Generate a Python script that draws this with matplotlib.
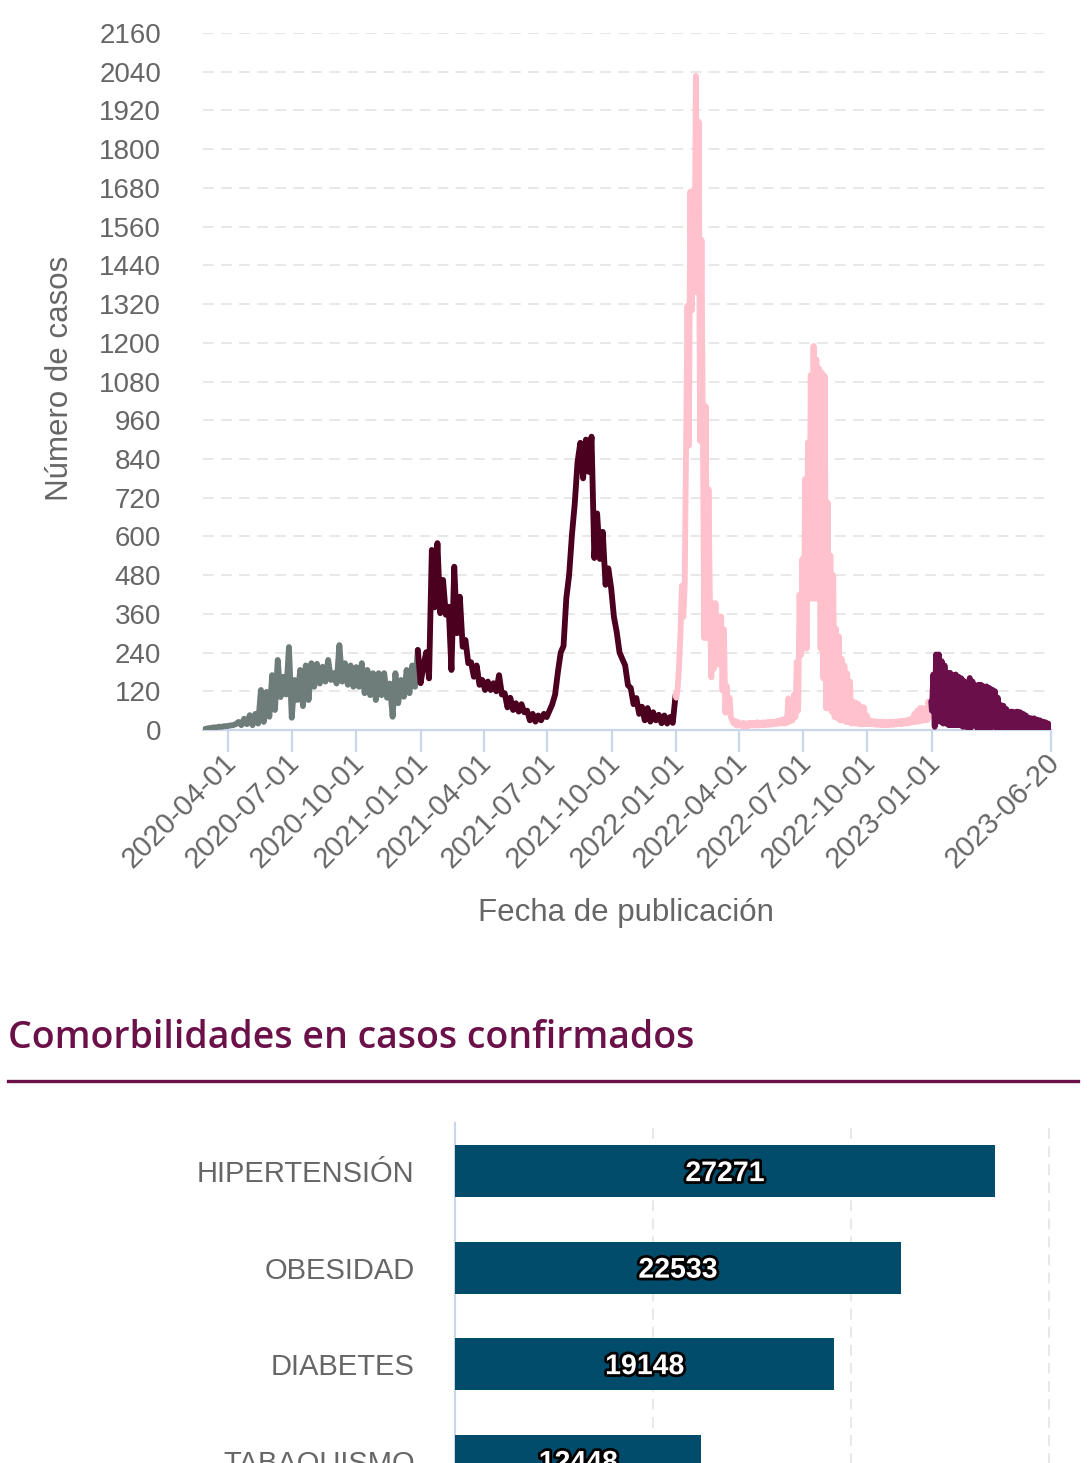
import matplotlib
matplotlib.use("Agg")
import matplotlib.pyplot as plt
import matplotlib.patheffects as pe
import matplotlib.transforms as mtransforms
from matplotlib.lines import Line2D
import pandas as pd

W, H, DPI = 1091, 1463, 100

# ---------------- data: daily cases sampled from the chart ----------------
gray_start, gray_step = "2020-02-28", 4
gray_vals = [3, 5, 6, 8, 8, 10, 10, 12, 12, 14, 15, 18, 25, 15, 35, 18, 46, 15, 50, 20,
             124, 25, 118, 41, 170, 62, 217, 102, 165, 110, 257, 38, 155, 93, 186, 74, 200, 93, 207, 134,
             205, 144, 196, 150, 217, 155, 176, 144, 263, 150, 207, 140, 200, 134, 195, 134, 207, 114, 186, 108,
             176, 93, 176, 108, 176, 100, 144, 41, 176, 83, 155, 103, 186, 114, 200, 134, 248]
maroon_start, maroon_step = "2021-01-01", 4
maroon_vals = [145, 200, 241, 160, 558, 380, 579, 362, 465, 357, 382, 186, 506, 300, 413, 258, 279, 207, 210, 165,
               200, 140, 155, 124, 150, 124, 145, 120, 170, 110, 114, 70, 100, 62, 83, 57, 80, 55, 60, 30,
               50, 26, 45, 30, 50, 40, 60, 80, 110, 180, 240, 260, 408, 480, 604, 700, 830, 890, 780, 900,
               800, 909, 533, 671, 530, 614, 450, 501, 440, 350, 303, 240, 220, 200, 139, 130, 80, 99, 50, 72,
               30, 68, 26, 55, 30, 47, 21, 45, 20, 40, 22, 108]
pink_start, pink_step = "2022-01-01", 2
pink_vals = [100, 130, 200, 300, 447, 350, 447, 881, 1315, 881, 1668, 1300, 1668, 1356, 2027, 1356, 1885, 895, 1519, 880,
             285, 1003, 285, 746, 400, 163, 393, 190, 393, 203, 352, 203, 352, 122, 312, 54, 136, 54, 100, 40,
             30, 20, 28, 14, 25, 14, 20,
             12, 22, 12, 20, 12, 22, 14, 22, 14, 22, 14, 24, 14, 22, 15, 24, 15, 24, 16, 25, 16, 26, 18, 26,
             18, 28, 20, 30,
             20, 32, 20, 36, 22, 98, 26, 90, 30, 110, 40, 211, 60, 420, 232, 530, 252, 778, 252, 891,
             407, 1100, 407, 1190, 407, 1148, 407, 1120, 252, 1107, 160, 1097, 67, 705, 67, 541, 57, 480, 40, 314,
             36, 290, 30, 221, 30, 200, 25, 175, 25, 150, 20, 88, 20, 85, 20, 80, 18, 72, 18, 70,
             18, 45, 18, 30,
             18, 28, 17, 27, 16, 26, 16, 26, 15, 25, 15, 25, 15, 25, 16, 26, 16, 26, 17, 27, 18, 28, 18, 28,
             20, 30,
             20, 32, 22, 35, 24, 50, 25, 60, 26, 68, 28, 68, 30, 60, 30, 88, 40, 88]
purple_start, purple_step = "2023-01-01", 2
purple_vals = [60, 172, 10, 234, 26, 234, 26, 213, 20, 200, 20, 177, 15, 177, 15, 170, 15, 172, 15, 165,
               15, 160, 10, 151, 10, 145, 8, 161, 8, 150, 30, 73, 8, 140, 8, 140, 8, 135, 8, 135,
               5, 130, 5, 125, 78, 120, 5, 100, 5, 78, 5, 75, 4, 65, 3, 57, 3, 57, 3, 55,
               3, 57, 3, 55, 3, 50, 3, 45, 3, 38, 3, 36, 3, 36, 3, 32, 3, 30, 3, 26,
               3, 24, 3, 20, 5, 12]

segment_colors = ["#6e7d7a", "#4b001f", "#ffc1cc", "#6b0f4a"]

x_tick_labels = ["2020-04-01", "2020-07-01", "2020-10-01", "2021-01-01", "2021-04-01", "2021-07-01",
                 "2021-10-01", "2022-01-01", "2022-04-01", "2022-07-01", "2022-10-01", "2023-01-01",
                 "2023-06-20"]
y_tick_values = [0, 120, 240, 360, 480, 600, 720, 840, 960, 1080, 1200, 1320, 1440, 1560, 1680,
                 1800, 1920, 2040, 2160]

categories = ["HIPERTENSIÓN", "OBESIDAD", "DIABETES", "TABAQUISMO"]
cases = [27271, 22533, 19148, 12448]
bar_grid = [10000, 20000, 30000]

# ---------------- figure ----------------
plt.rcParams["font.family"] = ["Liberation Sans", "DejaVu Sans"]
fig = plt.figure(figsize=(W / DPI, H / DPI), dpi=DPI)
fig.patch.set_facecolor("white")


def box(l, t, r, b):
    return [l / W, 1 - b / H, (r - l) / W, (b - t) / H]


TXT = "#666666"
AXC = "#ccd6eb"
GRID = "#e6e6e6"

# ---------------- line chart ----------------
ax = fig.add_axes(box(202.8, 33, 1051, 730))
segments = [(gray_start, gray_step, gray_vals), (maroon_start, maroon_step, maroon_vals),
            (pink_start, pink_step, pink_vals), (purple_start, purple_step, purple_vals)]
prev = None
for (start, step, vals), col in zip(segments, segment_colors):
    d = list(pd.date_range(start, periods=len(vals), freq=f"{step}D"))
    v = list(vals)
    if prev is not None:
        d = [prev[0]] + d
        v = [prev[1]] + v
    ax.plot(d, v, color=col, lw=4.2, solid_joinstyle="round", solid_capstyle="round", zorder=3)
    prev = (d[-1], v[-1])

ax.set_xlim(pd.Timestamp("2020-02-25"), pd.Timestamp("2023-06-20"))
ax.set_ylim(0, 2160)
ax.set_yticks(y_tick_values)
ax.set_yticklabels([str(v) for v in y_tick_values])
ax.yaxis.grid(True, color=GRID, linestyle=(0, (6, 4)), linewidth=1.3, zorder=0)
ax.set_axisbelow(True)
for s in ["top", "right", "left"]:
    ax.spines[s].set_visible(False)
ax.spines["bottom"].set_color(AXC)
ax.spines["bottom"].set_linewidth(1.6)
ax.tick_params(axis="y", length=0, pad=30, labelsize=20, labelcolor=TXT)
ax.set_xticks([pd.Timestamp(t) for t in x_tick_labels])
ax.set_xticklabels(x_tick_labels)
ax.tick_params(axis="x", direction="out", length=16, width=1.6, color=AXC,
               labelsize=21, labelcolor=TXT, pad=2)
shift = mtransforms.ScaledTranslation(-4.5 / 72, 5 / 72, fig.dpi_scale_trans)
for lab in ax.get_xticklabels():
    lab.set_rotation(45)
    lab.set_ha("right")
    lab.set_va("top")
    lab.set_rotation_mode("anchor")
    lab.set_transform(lab.get_transform() + shift)

fig.text(60 / W, 1 - 378 / H, "Número de casos", rotation=90, ha="center", va="center",
         fontsize=22.5, color=TXT)
fig.text(626 / W, 1 - 913 / H, "Fecha de publicación", ha="center", va="center",
         fontsize=22.5, color=TXT)

# ---------------- title block ----------------
fig.text(8 / W, 1 - 1038 / H, "Comorbilidades en casos confirmados", ha="left", va="center",
         fontsize=27, fontweight="semibold", color="#6b1048", family=["Open Sans", "DejaVu Sans"])
fig.add_artist(Line2D([8 / W, 1078 / W], [1 - 1081 / H, 1 - 1081 / H], transform=fig.transFigure,
                      color="#6b1048", lw=2.4))

# ---------------- bar chart ----------------
bx = fig.add_axes(box(455, 1123, 1051, 1123 + 96.5 * len(categories)))
ypos = list(range(len(categories)))
bx.barh(ypos, cases, height=0.54, color="#014c6b", zorder=3)
bx.set_xlim(0, 30100)
bx.set_ylim(len(categories) - 0.5, -0.5)
bx.set_xticks(bar_grid)
bx.xaxis.grid(True, color=GRID, linestyle=(0, (6, 4)), linewidth=1.3, zorder=0)
bx.tick_params(axis="x", length=0, labelbottom=False)
bx.set_yticks(ypos)
bx.set_yticklabels(categories)
bx.tick_params(axis="y", length=0, pad=29, labelsize=21, labelcolor=TXT)
for s in ["top", "right", "bottom"]:
    bx.spines[s].set_visible(False)
bx.spines["left"].set_color(AXC)
bx.spines["left"].set_linewidth(1.6)
for y, v in zip(ypos, cases):
    bx.text(v / 2, y + 0.03, str(v), ha="center", va="center", fontsize=20.5, fontweight="bold",
            color="white", zorder=4,
            path_effects=[pe.withStroke(linewidth=4, foreground="black")])

fig.savefig("out.png", dpi=DPI)
